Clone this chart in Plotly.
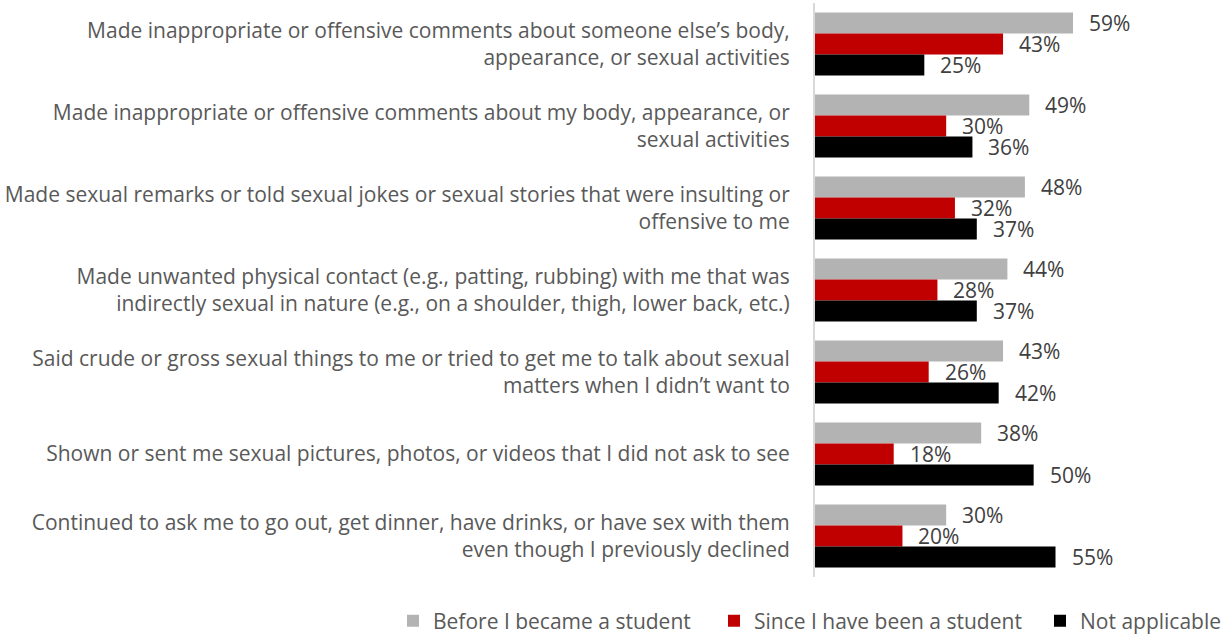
import plotly.graph_objects as go

categories = [
    "Made inappropriate or offensive comments about someone else\u2019s body,<br>appearance, or sexual activities",
    "Made inappropriate or offensive comments about my body, appearance, or<br>sexual activities",
    "Made sexual remarks or told sexual jokes or sexual stories that were insulting or<br>offensive to me",
    "Made unwanted physical contact (e.g., patting, rubbing) with me that was<br>indirectly sexual in nature (e.g., on a shoulder, thigh, lower back, etc.)",
    "Said crude or gross sexual things to me or tried to get me to talk about sexual<br>matters when I didn\u2019t want to",
    "Shown or sent me sexual pictures, photos, or videos that I did not ask to see",
    "Continued to ask me to go out, get dinner, have drinks, or have sex with them<br>even though I previously declined",
]
series_names = ["Before I became a student", "Since I have been a student", "Not applicable"]
before = [59, 49, 48, 44, 43, 38, 30]
since = [43, 30, 32, 28, 26, 18, 20]
not_applicable = [25, 36, 37, 37, 42, 50, 55]
colors = ["#b3b3b3", "#c00000", "#000000"]

FONT = "Open Sans"
FS = 21
BARGAP = 0.23
W, H = 1223, 636
legend_ids = ["legend", "legend2", "legend3"]
legend_x_px = [393, 714, 1040]

fig = go.Figure()
all_series = [before, since, not_applicable]
for name, vals, col, lid in zip(series_names, all_series, colors, legend_ids):
    fig.add_trace(go.Bar(
        y=list(range(len(categories))), x=[v / 100 for v in vals], name=name, orientation="h",
        marker=dict(color=col, line=dict(width=0)), legend=lid,
    ))

# data labels
bw = (1 - BARGAP) / len(all_series)
annotations = []
for si, vals in enumerate(all_series):
    off = (si - (len(all_series) - 1) / 2) * bw
    for ci, v in enumerate(vals):
        annotations.append(dict(
            x=v / 100, y=ci + off, xref="x", yref="y", text=f"{v}%", showarrow=False,
            xanchor="left", yanchor="middle", xshift=14,
            font=dict(family=FONT, size=FS, color="#404040"),
        ))

legend_cfg = {}
for lid, xp in zip(legend_ids, legend_x_px):
    legend_cfg[lid] = dict(
        orientation="h", xref="container", yref="container", x=xp / W, xanchor="left",
        y=(H - 621) / H, yanchor="middle", bgcolor="rgba(0,0,0,0)",
        font=dict(family=FONT, size=FS, color="#595959"),
    )

fig.update_layout(
    barmode="group", bargap=BARGAP, bargroupgap=0,
    width=W, height=H,
    margin=dict(l=815, r=0, t=3, b=59),
    plot_bgcolor="white", paper_bgcolor="white",
    font=dict(family=FONT, size=FS, color="#595959"),
    annotations=annotations,
    xaxis=dict(range=[0, 0.933], showgrid=False, showticklabels=False, zeroline=False, showline=False),
    yaxis=dict(showgrid=False, showline=True, linecolor="#d9d9d9", linewidth=2,
               tickmode="array", tickvals=list(range(len(categories))), ticktext=categories,
               ticks="", ticklabelstandoff=19, tickfont=dict(family=FONT, size=FS, color="#595959"),
               automargin=False, range=[len(categories) - 0.5, -0.5]),
    showlegend=True,
    **legend_cfg,
)
fig.write_html("out.html", config={"displayModeBar": False},
               post_script="document.body.style.margin='0';")
